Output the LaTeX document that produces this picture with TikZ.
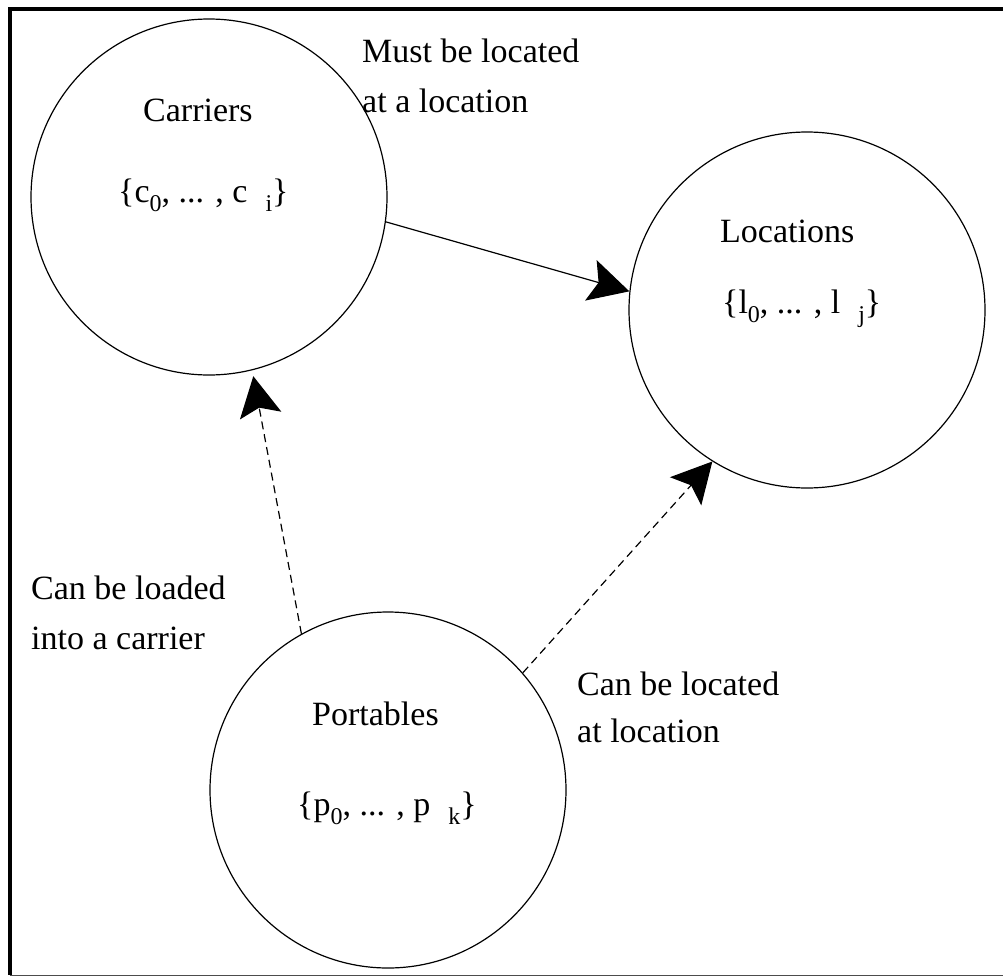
\documentclass[tikz,border=0pt]{standalone}
\usepackage{fontspec}
\setmainfont{Liberation Serif}
\usetikzlibrary{arrows.meta}
\newcommand{\mysub}[1]{\raisebox{-9pt}{\fontsize{24}{24}\selectfont #1}}
\begin{document}
\begin{tikzpicture}[x=1pt,y=-1pt,
  setcircle/.style={circle, draw, line width=1.2pt, minimum size=356pt, inner sep=0pt},
  lbl/.style={anchor=base west, inner sep=0pt, font=\fontsize{34}{34}\selectfont},
  conn/.style={line width=1.2pt, -{Stealth[length=40pt,width=42pt,inset=8pt]}},
  dashconn/.style={conn, dash pattern=on 8pt off 5pt}]
\useasboundingbox (0,0) rectangle (1003,977);
% frame
\draw[line width=4pt] (9.5,975) -- (9.5,9) -- (1003,9);
\draw[line width=1.5pt, black!70] (9.5,975.5) -- (1003,975.5);
% circles
\node[setcircle] (C) at (209,197) {};
\node[setcircle] (L) at (807,310) {};
\node[setcircle] (P) at (388,790) {};
% texts inside circles
\node[lbl] (ct) at (143,121) {Carriers};
\node[lbl] (cs) at (118,202) {\{c\mysub{0}, ... , c\hspace{18pt}\mysub{i}\}};
\node[lbl] (lt) at (720,242) {Locations};
\node[lbl] (ls) at (722,313) {\{l\mysub{0}, ... , l\hspace{18pt}\mysub{j}\}};
\node[lbl] (pt) at (312,725) {Portables};
\node[lbl] (ps) at (297,815) {\{p\mysub{0}, ... , p\hspace{18pt}\mysub{k}\}};
% connector labels
\node[lbl] (m1) at (362,62) {Must be located};
\node[lbl] (m2) at (362,112) {at a location};
\node[lbl] (a1) at (31,599) {Can be loaded};
\node[lbl] (a2) at (31,649) {into a carrier};
\node[lbl] (b1) at (577,695) {Can be located};
\node[lbl] (b2) at (577,742) {at location};
% connectors
\draw[conn] (C.-8.6) -- (L.174.3);
\draw[dashconn, shorten >=6pt] (P.119.5) -- (C.-76);
\draw[dashconn] (P.41) -- (L.238);
\end{tikzpicture}
\end{document}
